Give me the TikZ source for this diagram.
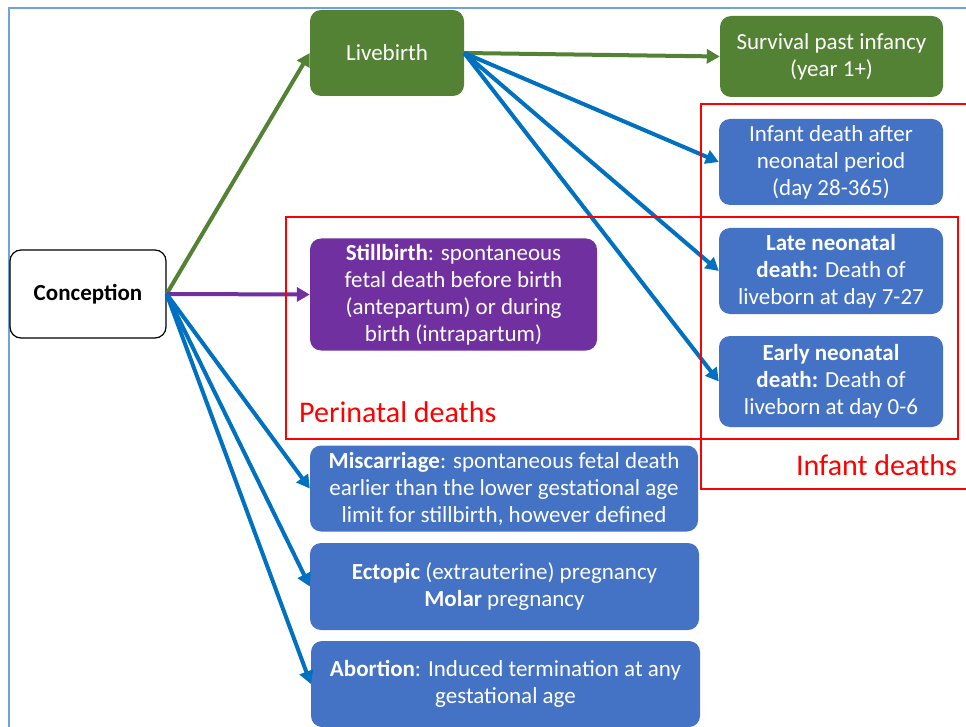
\documentclass[tikz,border=0pt]{standalone}
\usepackage{fontspec}
\setmainfont{Carlito}
\usetikzlibrary{arrows.meta}
\definecolor{leafgreen}{HTML}{548235}
\definecolor{boxblue}{HTML}{4472C4}
\definecolor{arrowblue}{HTML}{0070C0}
\definecolor{plum}{HTML}{7030A0}
\definecolor{frameblue}{HTML}{6FA3DC}
\definecolor{alertred}{HTML}{FF0000}
\begin{document}
\begin{tikzpicture}[x=1pt,y=-1pt,
  box/.style={rounded corners=11pt, align=center, text=white, inner sep=0pt,
    font=\fontsize{23}{27}\selectfont},
  greenbox/.style={box, fill=leafgreen},
  bluebox/.style={box, fill=boxblue},
  purplebox/.style={box, fill=plum},
  link/.style={line width=4pt, -{Triangle[length=13pt,width=14pt]}},
  glink/.style={link, draw=leafgreen},
  blink/.style={link, draw=arrowblue},
  plink/.style={link, draw=plum},
  groupframe/.style={draw=alertred, line width=1.4pt},
  grouplabel/.style={text=alertred, inner sep=0pt, font=\fontsize{30}{36}\selectfont}]
\useasboundingbox (0,0) rectangle (966,727);

% outer frame
\draw[draw=frameblue, line width=2pt] (9,727) -- (9,8) -- (966,8);

% nodes
\node[box, fill=white, draw=black, line width=1.2pt, text=black,
  minimum width=156pt, minimum height=88pt] (conc) at (88,294) {\textbf{Conception}};
\node[greenbox, minimum width=154pt, minimum height=86pt] (live) at (387,53) {Livebirth};
\node[greenbox, minimum width=223pt, minimum height=81pt] (surv) at (831.5,56.5)
  {Survival past infancy\\(year 1+)};
\node[bluebox, minimum width=224pt, minimum height=86pt] (post) at (831,162)
  {Infant death after\\neonatal period\\(day 28-365)};
\node[bluebox, minimum width=224pt, minimum height=86pt] (late) at (831,271)
  {\textbf{Late neonatal}\\\textbf{death:} Death of\\liveborn at day 7-27};
\node[bluebox, minimum width=224pt, minimum height=91pt] (early) at (831,381.5)
  {\textbf{Early neonatal}\\\textbf{death:} Death of\\liveborn at day 0-6};
\node[purplebox, minimum width=287pt, minimum height=112pt] (still) at (453.5,294.5)
  {\textbf{Stillbirth}: spontaneous\\fetal death before birth\\(antepartum) or during\\birth (intrapartum)};
\node[bluebox, minimum width=388pt, minimum height=86pt] (misc) at (504,488.5)
  {\textbf{Miscarriage}: spontaneous fetal death\\earlier than the lower gestational age\\limit for stillbirth, however defined};
\node[bluebox, minimum width=389pt, minimum height=87pt] (ecto) at (504.5,586.5)
  {\textbf{Ectopic} (extrauterine) pregnancy\\\textbf{Molar} pregnancy};
\node[bluebox, minimum width=389pt, minimum height=86pt] (abor) at (505.5,684)
  {\textbf{Abortion}: Induced termination at any\\gestational age};

% connectors
\draw[glink] (conc.east) -- (live.west);
\draw[plink] (conc.east) -- (still.west);
\draw[blink] (conc.east) -- (misc.west);
\draw[blink] (conc.east) -- (ecto.west);
\draw[blink] (conc.east) -- (abor.west);
\draw[glink] (live.east) -- (surv.west);
\draw[blink] (live.east) -- (post.west);
\draw[blink] (live.east) -- (late.west);
\draw[blink] (live.east) -- (early.west);

% grouping frames
\draw[groupframe] (286,217) rectangle (958,439);
\draw[groupframe] (966,104) -- (701,104) -- (701,489) -- (966,489);
\node[grouplabel, anchor=base west] (perilabel) at (299,422) {Perinatal deaths};
\node[grouplabel, anchor=base east] (inflabel) at (957,475) {Infant deaths};
\end{tikzpicture}
\end{document}
